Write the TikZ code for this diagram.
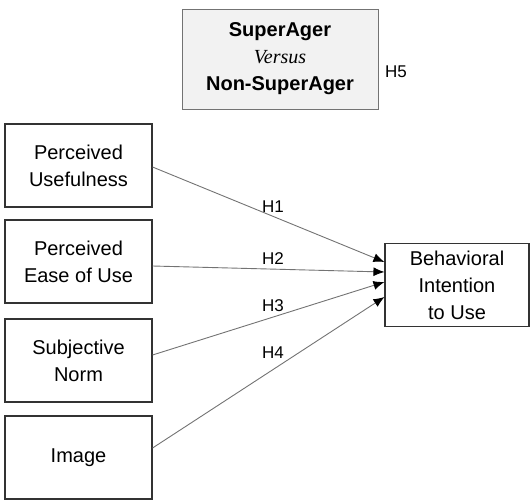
\documentclass[tikz,border=0pt]{standalone}
\usepackage{fontspec}
\setmainfont{Liberation Sans}
\newfontfamily\timesfont{Liberation Serif}
\usetikzlibrary{arrows.meta}
\tikzset{
  box/.style={draw=black!80, line width=1.1pt, minimum width=147pt, minimum height=83pt,
    inner sep=0pt, align=center, font=\fontsize{20}{27}\selectfont},
  grpbox/.style={draw=black!55, line width=1pt, fill=black!5, minimum width=196pt,
    minimum height=100pt, inner sep=0pt, align=center, font=\fontsize{20}{27}\selectfont},
  hyp/.style={font=\fontsize{17}{20}\selectfont, inner sep=0pt},
  path/.style={draw=black!55, line width=0.9pt, -{Latex[black,length=11pt,width=9pt]}}
}
\begin{document}
\begin{tikzpicture}[x=1pt, y=-1pt]
    \useasboundingbox (0,0) rectangle (531,499);
    \node[grpbox] (grp) at (280,59) {\textbf{SuperAger}\\{\timesfont\itshape Versus}\\\textbf{Non-SuperAger}};
    \node[hyp] (h5) at (396,72) {H5};
    \node[box] (pu) at (78.5,165.5) {Perceived\\Usefulness};
    \node[box] (peou) at (78.5,261.5) {Perceived\\Ease of Use};
    \node[box] (sn) at (78.5,360.5) {Subjective\\Norm};
    \node[box] (img) at (78.5,457.5) {Image};
    \node[box, minimum width=144pt] (bi) at (457,285) {Behavioral\\Intention\\to Use};
    \node[hyp] (h1) at (273,207) {H1};
    \node[hyp] (h2) at (273,259) {H2};
    \node[hyp] (h3) at (273,306) {H3};
    \node[hyp] (h4) at (273,353) {H4};
    \draw[path] ([yshift=-1.5pt]pu.east) -- ([yshift=23pt]bi.west);
    \draw[path] ([yshift=-4.5pt]peou.east) -- ([yshift=13pt]bi.west);
    \draw[path] ([yshift=5.5pt]sn.east) -- ([yshift=3pt]bi.west);
    \draw[path] ([yshift=9.5pt]img.east) -- ([yshift=-12pt]bi.west);
\end{tikzpicture}
\end{document}
